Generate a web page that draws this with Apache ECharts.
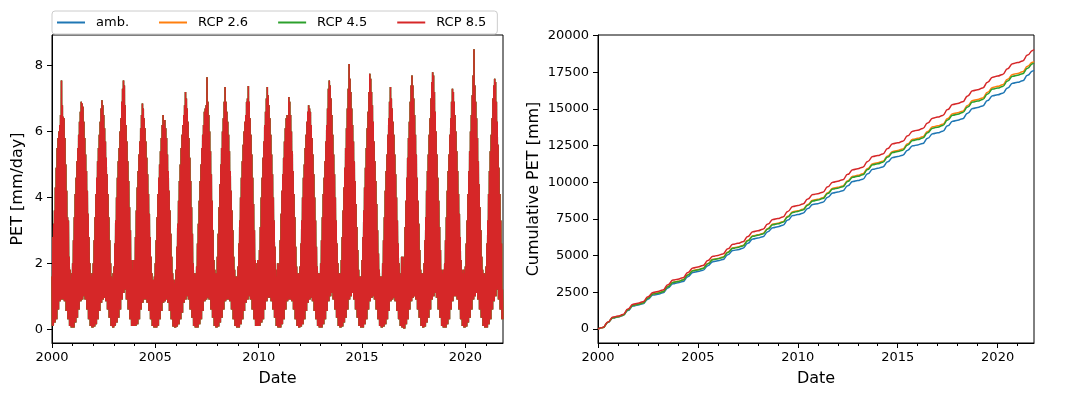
<!DOCTYPE html>
<html>
<head>
<meta charset="utf-8">
<script src="https://cdn.jsdelivr.net/npm/echarts@6/dist/echarts.min.js"></script>
<style>
html, body { margin: 0; padding: 0; background: #fff; }
#chart { width: 1069px; height: 400px; }
</style>
</head>
<body>
<div id="chart"></div>
<script>
// years shown, last day of data ~ end of Oct 2021
var years = [2000, 2001, 2002, 2003, 2004, 2005, 2006, 2007, 2008, 2009, 2010,
             2011, 2012, 2013, 2014, 2015, 2016, 2017, 2018, 2019, 2020, 2021];
var endYear = 2021.82;
var seriesNames = ['amb.', 'RCP 2.6', 'RCP 4.5', 'RCP 8.5'];
var colors = ['#1f77b4', '#ff7f0e', '#2ca02c', '#d62728'];

// daily PET, read as upper spikes per half month (mm/day)
var hi2000 = [1.6,2.8,3.2,3.6,4.3,4.9,5.5,5.8,6.0,6.2,6.5,7.55,6.8,6.45,6.4,5.8,5.0,4.2,3.4,3.3,2.2,1.8,1.5,1.7];
var hi2001 = [2.0,2.7,3.4,4.1,4.6,5.1,5.5,5.9,6.3,6.6,6.9,6.85,6.75,6.3,5.8,5.3,4.8,4.2,3.5,2.8,2.0,1.7,1.6,1.7];
var hi2002 = [2.0,2.7,3.4,4.1,4.6,5.1,5.5,5.9,6.3,6.7,6.95,6.8,6.5,6.1,5.7,5.2,4.7,4.1,3.4,2.7,2.0,1.6,1.5,1.7];
var hi2003 = [1.9,2.6,3.3,4.0,4.6,5.1,5.5,6.0,6.4,6.9,7.3,7.55,7.4,6.8,6.2,5.7,5.1,4.5,3.7,3.0,2.1,1.8,2.1,2.1];
var hi2004 = [2.1,2.8,3.6,4.3,4.8,5.3,5.7,6.1,6.5,6.85,6.7,6.4,6.1,5.7,5.2,4.7,4.1,3.5,2.8,2.2,1.7,1.5,1.5,1.6];
var hi2005 = [2.0,2.7,3.4,4.1,4.6,5.0,5.4,5.8,6.2,6.5,6.2,6.35,6.1,5.8,5.3,4.8,4.2,3.6,2.9,2.2,1.7,1.5,1.4,1.5];
var hi2006 = [1.8,2.5,3.2,3.9,4.5,5.0,5.5,5.9,6.2,6.5,6.8,7.2,7.0,6.7,6.3,5.8,5.2,4.5,3.7,2.9,2.0,1.7,1.7,1.6];
var hi2007 = [1.9,2.6,3.2,3.9,4.5,5.0,5.5,5.9,6.2,6.6,6.7,6.8,7.65,6.9,6.5,6.0,5.4,4.7,3.9,3.0,2.1,1.8,1.7,1.7];
var hi2008 = [2.2,2.9,3.7,4.4,5.0,5.5,6.0,6.4,6.9,7.35,6.9,6.6,6.3,5.9,5.4,4.8,4.2,3.6,3.0,2.2,1.8,1.6,1.6,1.6];
var hi2009 = [1.9,2.6,3.3,4.0,4.6,5.1,5.6,6.0,6.3,6.5,6.9,7.0,7.38,6.9,6.4,5.9,5.3,4.6,3.8,3.0,2.1,1.8,2.0,2.1];
var hi2010 = [2.0,2.4,3.1,4.0,4.6,5.2,5.7,6.2,6.6,7.0,7.35,7.1,6.8,6.4,5.9,5.3,4.7,4.0,3.3,2.5,1.8,1.6,2.0,1.9];
var hi2011 = [2.0,2.7,3.5,4.2,4.7,5.2,5.7,6.1,6.4,6.5,6.4,7.05,6.9,6.5,6.0,5.4,4.8,4.1,3.4,2.5,1.9,1.7,1.7,1.7];
var hi2012 = [1.9,2.6,3.3,4.0,4.6,5.0,5.5,5.9,6.3,6.6,6.8,6.7,6.6,6.2,5.8,5.3,4.7,4.0,3.3,2.5,1.9,1.7,1.7,1.7];
var hi2013 = [2.0,2.7,3.4,4.1,4.6,5.1,5.7,6.2,6.7,7.3,7.55,7.4,7.0,6.5,5.9,5.3,4.7,4.0,3.3,2.6,2.0,1.7,1.7,1.7];
var hi2014 = [2.1,2.8,3.6,4.3,4.9,5.5,6.1,6.7,7.3,8.05,7.6,7.2,6.7,6.2,5.7,5.1,4.5,3.8,3.1,2.4,1.8,1.6,1.6,1.6];
var hi2015 = [2.1,2.8,3.6,4.3,4.9,5.5,6.1,6.6,7.2,7.75,7.6,7.2,6.8,6.3,5.7,5.1,4.5,3.8,3.0,2.3,1.8,1.6,1.6,1.6];
var hi2016 = [2.0,2.7,3.4,4.2,4.8,5.3,5.9,6.4,6.9,7.35,7.0,6.7,6.3,5.9,5.3,4.7,4.0,3.3,2.6,2.0,1.7,1.6,2.2,2.2];
var hi2017 = [1.9,2.2,3.1,3.9,4.6,5.2,5.8,6.3,6.9,7.4,7.7,7.4,7.0,6.5,5.9,5.3,4.6,3.9,3.2,2.4,1.8,1.7,1.7,1.7];
var hi2018 = [2.0,2.7,3.4,4.2,4.8,5.3,5.9,6.4,7.0,7.5,7.8,7.7,7.2,6.6,6.0,5.3,4.6,3.9,3.1,2.4,1.8,1.7,1.8,1.8];
var hi2019 = [2.0,2.7,3.4,4.2,4.8,5.3,5.9,6.4,6.9,7.3,7.2,6.9,6.5,6.0,5.4,4.8,4.1,3.5,2.8,2.1,1.8,1.7,1.8,1.7];
var hi2020 = [1.9,2.6,3.3,4.1,4.8,5.4,6.0,6.5,7.1,7.7,8.5,7.4,6.9,6.4,5.8,5.1,4.4,3.7,3.0,2.2,1.8,1.7,1.7,1.6];
var hi2021 = [1.9,2.6,3.3,4.1,4.8,5.4,5.9,6.4,7.0,7.4,7.6,7.5,6.9,6.3,5.6,4.9,4.1,3.3,2.6,1.2];

// daily PET, lowest values per month (mm/day)
var lo2000 = [0.1,0.2,0.3,0.6,0.85,0.9,0.9,0.85,0.55,0.3,0.1,0.05];
var lo2001 = [0.05,0.2,0.35,0.6,0.85,0.9,1.0,0.9,0.6,0.3,0.1,0.05];
var lo2002 = [0.08,0.15,0.3,0.55,0.8,0.9,0.95,0.85,0.6,0.35,0.1,0.05];
var lo2003 = [0.1,0.2,0.35,0.6,0.9,1.1,1.2,0.9,0.6,0.3,0.1,0.1];
var lo2004 = [0.1,0.15,0.3,0.6,0.8,0.9,0.9,0.8,0.55,0.3,0.1,0.05];
var lo2005 = [0.05,0.1,0.3,0.55,0.8,0.85,0.9,0.8,0.55,0.3,0.08,0.05];
var lo2006 = [0.08,0.15,0.3,0.5,0.8,0.9,1.0,0.9,0.6,0.35,0.1,0.05];
var lo2007 = [0.05,0.15,0.3,0.55,0.85,0.9,0.95,0.9,0.6,0.35,0.1,0.05];
var lo2008 = [0.08,0.2,0.35,0.6,0.85,0.9,0.9,0.85,0.6,0.3,0.1,0.05];
var lo2009 = [0.05,0.15,0.3,0.55,0.8,0.9,1.0,0.9,0.6,0.3,0.1,0.1];
var lo2010 = [0.1,0.2,0.3,0.6,0.85,0.95,0.95,0.85,0.6,0.35,0.1,0.05];
var lo2011 = [0.05,0.15,0.3,0.6,0.85,0.9,0.9,0.85,0.6,0.3,0.1,0.05];
var lo2012 = [0.08,0.15,0.3,0.55,0.8,0.9,0.95,0.85,0.55,0.3,0.1,0.05];
var lo2013 = [0.05,0.15,0.3,0.55,0.85,1.0,1.1,0.9,0.6,0.35,0.1,0.05];
var lo2014 = [0.08,0.2,0.35,0.6,0.9,1.0,1.1,0.9,0.6,0.35,0.1,0.05];
var lo2015 = [0.05,0.15,0.3,0.6,0.85,0.95,1.0,0.9,0.6,0.3,0.1,0.05];
var lo2016 = [0.08,0.15,0.3,0.55,0.85,0.9,0.95,0.85,0.55,0.3,0.1,0.05];
var lo2017 = [0.02,0.15,0.3,0.6,0.85,0.95,1.0,0.9,0.6,0.35,0.1,0.05];
var lo2018 = [0.08,0.2,0.35,0.6,0.9,1.0,1.1,0.95,0.6,0.35,0.1,0.05];
var lo2019 = [0.05,0.15,0.3,0.6,0.85,1.0,1.0,0.9,0.6,0.3,0.1,0.05];
var lo2020 = [0.08,0.2,0.35,0.6,0.9,1.0,1.1,0.9,0.6,0.35,0.1,0.05];
var lo2021 = [0.05,0.15,0.3,0.6,0.85,1.0,1.2,0.9,0.6,0.3];

var hiByYear = [hi2000, hi2001, hi2002, hi2003, hi2004, hi2005, hi2006, hi2007, hi2008, hi2009, hi2010,
                hi2011, hi2012, hi2013, hi2014, hi2015, hi2016, hi2017, hi2018, hi2019, hi2020, hi2021];
var loByYear = [lo2000, lo2001, lo2002, lo2003, lo2004, lo2005, lo2006, lo2007, lo2008, lo2009, lo2010,
                lo2011, lo2012, lo2013, lo2014, lo2015, lo2016, lo2017, lo2018, lo2019, lo2020, lo2021];

// cumulative PET (mm) at 1 Jan, 1 Apr, 1 Jul, 1 Oct of each year, last value at end of data
var cumAmb = [0,98,448,750, 815,913,1263,1565, 1630,1719,2037,2311, 2370,2464,2799,3088,
  3150,3242,3571,3854, 3915,4003,4319,4591, 4650,4741,5068,5349, 5410,5505,5847,6141,
  6205,6297,6629,6913, 6975,7074,7429,7734, 7800,7890,8213,8490, 8550,8644,8982,9272,
  9335,9429,9767,10057, 10120,10220,10579,10888, 10955,11052,11398,11696, 11760,11855,12197,12491,
  12555,12654,13009,13314, 13380,13483,13853,14171, 14240,14344,14719,15040, 15110,15214,15586,15906,
  15975,16077,16443,16757, 16825,16927,17297,17595, 17650];
var cumRcp26 = [0,102,463,775, 842,944,1305,1618, 1686,1778,2108,2391, 2452,2549,2895,3192,
  3257,3353,3695,3988, 4052,4143,4469,4750, 4811,4906,5243,5534, 5596,5695,6050,6355,
  6421,6517,6860,7154, 7217,7319,7685,7999, 8066,8160,8495,8784, 8846,8944,9295,9596,
  9661,9759,10110,10412, 10477,10581,10951,11270, 11338,11439,11799,12109, 12175,12274,12630,12936,
  13002,13104,13471,13786, 13855,13962,14347,14677, 14748,14856,15245,15580, 15653,15760,16145,16476,
  16548,16654,17033,17361, 17430,17536,17918,18200, 18250];
var cumRcp45 = [0,101,461,771, 838,939,1299,1610, 1677,1769,2097,2379, 2440,2536,2880,3176,
  3240,3335,3675,3967, 4030,4121,4445,4725, 4785,4879,5214,5503, 5565,5663,6016,6319,
  6385,6480,6820,7112, 7175,7276,7640,7952, 8020,8113,8446,8733, 8795,8892,9241,9540,
  9605,9702,10051,10350, 10415,10518,10885,11202, 11270,11370,11727,12034, 12100,12198,12551,12854,
  12920,13021,13385,13697, 13765,13871,14252,14579, 14650,14757,15142,15473, 15545,15651,16032,16359,
  16430,16535,16911,17235, 17305,17410,17790,18095, 18150];
var cumRcp85 = [0,106,484,810, 880,986,1364,1690, 1760,1856,2200,2496, 2560,2661,3022,3333,
  3400,3500,3857,4164, 4230,4325,4665,4957, 5020,5118,5471,5774, 5840,5943,6313,6631,
  6700,6800,7157,7464, 7530,7637,8020,8349, 8420,8517,8866,9165, 9230,9332,9698,10012,
  10080,10182,10548,10862, 10930,11038,11425,11758, 11830,11934,12309,12630, 12700,12803,13173,13491,
  13560,13667,14050,14379, 14450,14562,14962,15306, 15380,15493,15897,16245, 16320,16432,16832,17176,
  17250,17360,17756,18096, 18170,18280,18680,19000, 19060];
var cumBySeries = [cumAmb, cumRcp26, cumRcp45, cumRcp85];

var yearLabels = [2000, 2005, 2010, 2015, 2020];
var yearMinor = [2001, 2002, 2003, 2004, 2006, 2007, 2008, 2009, 2011, 2012, 2013, 2014,
                 2016, 2017, 2018, 2019, 2021];
var petTicks = [0, 2, 4, 6, 8];
var cumTicks = [0, 2500, 5000, 7500, 10000, 12500, 15000, 17500, 20000];

// build daily band: alternate spike / low inside each half month
var dailyPairs = [];
years.forEach(function (y, i) {
    var hi = hiByYear[i], lo = loByYear[i];
    for (var k = 0; k < hi.length; k++) {
        dailyPairs.push([y + k / 24, hi[k]]);
        dailyPairs.push([y + (k + 0.5) / 24, lo[Math.floor(k / 2)]]);
    }
});

var quarterX = [];
years.forEach(function (y) {
    quarterX.push(y, y + 0.25, y + 0.5, y + 0.75);
});
quarterX.push(endYear);

var FONT = 'DejaVu Sans';
var plain = function (v) { return String(v); };

var leftRect = { left: 52, top: 35, width: 451, height: 308 };
var rightRect = { left: 598, top: 35, width: 436, height: 308 };

function mainX(gridIndex) {
    return {
        type: 'value', gridIndex: gridIndex, min: 2000, max: endYear,
        name: 'Date', nameLocation: 'middle', nameGap: 28,
        nameTextStyle: { fontFamily: FONT, fontSize: 16, color: '#000' },
        axisLine: { show: true, onZero: false, lineStyle: { color: '#000', width: 1 } },
        axisTick: { show: true, length: 5, customValues: yearLabels, lineStyle: { color: '#000' } },
        axisLabel: { customValues: yearLabels, formatter: plain, fontFamily: FONT, fontSize: 13, color: '#000', margin: 8 },
        splitLine: { show: false }
    };
}
// minor year ticks live on a twin grid with the same rectangle
function minorX(gridIndex) {
    return {
        type: 'value', gridIndex: gridIndex, min: 2000, max: endYear, position: 'bottom',
        axisLine: { show: false, onZero: false },
        axisTick: { show: true, length: 3, customValues: yearMinor, lineStyle: { color: '#000' } },
        axisLabel: { show: false },
        splitLine: { show: false }
    };
}
function hiddenY(gridIndex) {
    return { type: 'value', gridIndex: gridIndex, show: false, min: 0, max: 1, splitLine: { show: false } };
}

var series = [];
seriesNames.forEach(function (name, i) {
    series.push({
        name: name, type: 'line', xAxisIndex: 0, yAxisIndex: 0,
        data: dailyPairs, showSymbol: false, symbol: 'none',
        lineStyle: { width: 1.5, color: colors[i] }, itemStyle: { color: colors[i] },
        silent: true
    });
});
seriesNames.forEach(function (name, i) {
    series.push({
        name: name, type: 'line', xAxisIndex: 1, yAxisIndex: 1,
        data: cumBySeries[i].map(function (v, j) { return [quarterX[j], v]; }),
        showSymbol: false, symbol: 'none', smooth: 0.5, smoothMonotone: 'x',
        lineStyle: { width: 1.5, color: colors[i] }, itemStyle: { color: colors[i] },
        silent: true
    });
});

var chart = echarts.init(document.getElementById('chart'), null, { renderer: 'canvas' });
chart.setOption({
    animation: false,
    backgroundColor: '#fff',
    color: colors,
    legend: {
        data: seriesNames,
        left: 52, top: 11,
        orient: 'horizontal',
        icon: 'rect',
        itemWidth: 28, itemHeight: 2, itemGap: 30,
        padding: [5, 11, 5, 5],
        borderColor: '#cccccc', borderWidth: 1, borderRadius: 3,
        textStyle: { fontFamily: FONT, fontSize: 13, color: '#000', padding: [0, 0, 0, 6] }
    },
    grid: [
        Object.assign({ show: true, borderColor: '#000', borderWidth: 1 }, leftRect),
        Object.assign({ show: true, borderColor: '#000', borderWidth: 1 }, rightRect),
        Object.assign({ show: false }, leftRect),
        Object.assign({ show: false }, rightRect)
    ],
    xAxis: [mainX(0), mainX(1), minorX(2), minorX(3)],
    yAxis: [
        {
            type: 'value', gridIndex: 0, min: -0.42, max: 8.93,
            name: 'PET [mm/day]', nameLocation: 'middle', nameGap: 26,
            nameTextStyle: { fontFamily: FONT, fontSize: 16, color: '#000' },
            axisLine: { show: true, lineStyle: { color: '#000' } },
            axisTick: { show: true, length: 5, customValues: petTicks, lineStyle: { color: '#000' } },
            axisLabel: { customValues: petTicks, formatter: plain, fontFamily: FONT, fontSize: 13, color: '#000', margin: 9 },
            splitLine: { show: false }
        },
        {
            type: 'value', gridIndex: 1, min: -955, max: 20050,
            name: 'Cumulative PET [mm]', nameLocation: 'middle', nameGap: 56,
            nameTextStyle: { fontFamily: FONT, fontSize: 16, color: '#000' },
            axisLine: { show: true, lineStyle: { color: '#000' } },
            axisTick: { show: true, length: 5, customValues: cumTicks, lineStyle: { color: '#000' } },
            axisLabel: { customValues: cumTicks, formatter: plain, fontFamily: FONT, fontSize: 13, color: '#000', margin: 9 },
            splitLine: { show: false }
        },
        hiddenY(2),
        hiddenY(3)
    ],
    series: series
});
</script>
</body>
</html>
